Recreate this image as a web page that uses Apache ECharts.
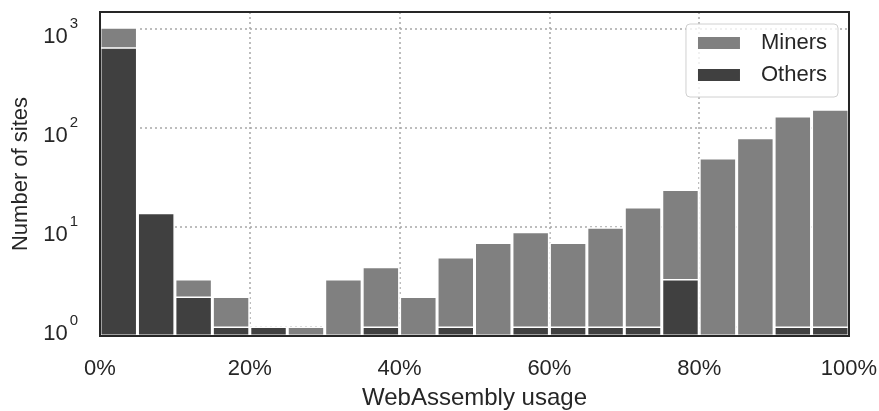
<!DOCTYPE html>
<html lang="en">
<head>
    <meta charset="UTF-8">
    <title>WebAssembly usage</title>
    <script src="https://cdn.jsdelivr.net/npm/echarts@6/dist/echarts.min.js"></script>
    <style>
        body, html {
            margin: 0;
            background: #fff;
        }
        #main {
            width: 879px;
            height: 411px;
        }
    </style>
</head>
<body>
<div id="main"></div>

<script>
    // 20 bins of 5% each, 0% .. 100%
    const bins = ['0-5', '5-10', '10-15', '15-20', '20-25', '25-30', '30-35', '35-40', '40-45', '45-50',
        '50-55', '55-60', '60-65', '65-70', '70-75', '75-80', '80-85', '85-90', '90-95', '95-100'];
    const others = [653, 14, 2, 1, 1, 0, 0, 1, 0, 1, 0, 1, 1, 1, 1, 3, 0, 0, 1, 1];
    const miners = [385, 0, 1, 1, 0, 1, 3, 3, 2, 4, 7, 8, 6, 9, 15, 21, 50, 80, 131, 154];
    const xTicks = [0, 20, 40, 60, 80, 100];

    // stacked histogram: miners sit on top of others, so draw the totals behind
    const totals = miners.map((m, i) => m + others[i]);
    const othersData = others.map(v => v > 0 ? v : '-');

    const textColor = '#262626';
    const fontName = 'Liberation Sans, Arial, sans-serif';
    const gridLine = { color: '#a8a8a8', width: 1.5, type: [2, 3] };

    var chart = echarts.init(document.getElementById('main'));

    var option = {
        animation: false,
        textStyle: { fontFamily: fontName },
        grid: {
            left: 100,
            right: 30,
            top: 12,
            bottom: 75,
            outerBoundsMode: 'none',
            show: true,
            borderColor: '#262626',
            borderWidth: 2,
            z: 3
        },
        legend: {
            data: ['Miners', 'Others'],
            orient: 'vertical',
            right: 41,
            top: 24,
            icon: 'rect',
            itemWidth: 44,
            itemHeight: 14,
            itemGap: 10,
            padding: [8, 11, 11, 10],
            borderColor: '#d0d0d0',
            borderWidth: 1,
            borderRadius: 4,
            backgroundColor: 'rgba(255,255,255,0.8)',
            textStyle: {
                fontSize: 22,
                color: textColor,
                fontFamily: fontName,
                padding: [0, 0, 0, 15]
            }
        },
        xAxis: [
            {
                type: 'category',
                data: bins,
                boundaryGap: true,
                axisLine: { show: false },
                axisTick: { show: false },
                axisLabel: { show: false },
                splitLine: { show: false }
            },
            {
                type: 'value',
                min: 0,
                max: 100,
                interval: 20,
                position: 'bottom',
                name: 'WebAssembly usage',
                nameLocation: 'middle',
                nameGap: 50,
                nameTextStyle: { fontSize: 24, color: textColor, fontFamily: fontName },
                axisLine: { show: false },
                axisTick: { show: false },
                axisLabel: {
                    fontSize: 22,
                    color: textColor,
                    margin: 22,
                    formatter: v => xTicks.includes(v) ? v + '%' : ''
                },
                splitLine: {
                    show: true,
                    showMinLine: false,
                    showMaxLine: false,
                    lineStyle: gridLine
                }
            }
        ],
        yAxis: {
            type: 'log',
            logBase: 10,
            min: 0.8,
            max: 1480,
            startValue: 0.8,
            name: 'Number of sites',
            nameLocation: 'middle',
            nameGap: 66,
            nameTextStyle: { fontSize: 22, color: textColor, fontFamily: fontName },
            axisLine: { show: false },
            axisTick: { show: false },
            minorTick: { show: false },
            axisLabel: {
                margin: 22,
                formatter: function (v) {
                    const e = Math.log10(v);
                    if (Math.abs(e - Math.round(e)) > 1e-6) return '';
                    return '{b|10}{s|' + Math.round(e) + '}';
                },
                rich: {
                    b: { fontSize: 22, color: textColor, fontFamily: fontName, padding: [16, 0, 0, 0] },
                    s: { fontSize: 15, color: textColor, fontFamily: fontName, padding: [0, 0, 11, 2] }
                }
            },
            splitLine: {
                show: true,
                showMinLine: false,
                showMaxLine: false,
                lineStyle: gridLine
            }
        },
        series: [
            {
                name: 'Miners',
                type: 'bar',
                xAxisIndex: 0,
                data: totals,
                barWidth: '100%',
                barGap: '-100%',
                itemStyle: { color: '#808080', borderColor: '#fff', borderWidth: 1.5 }
            },
            {
                name: 'Others',
                type: 'bar',
                xAxisIndex: 0,
                data: othersData,
                barWidth: '100%',
                barGap: '-100%',
                itemStyle: { color: '#404040', borderColor: '#fff', borderWidth: 1.5 }
            }
        ]
    };

    chart.setOption(option);
</script>
</body>
</html>
